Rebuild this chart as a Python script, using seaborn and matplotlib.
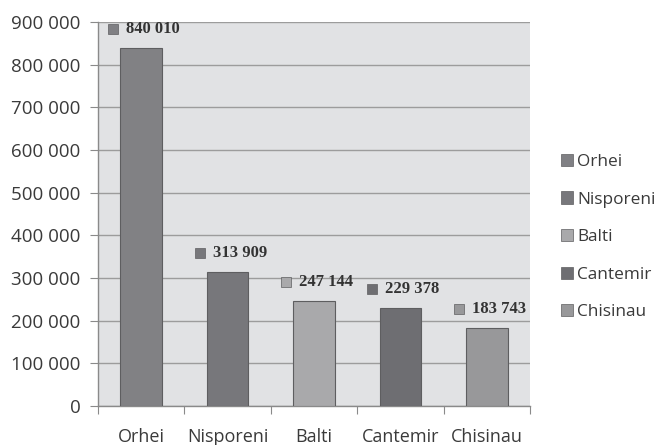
import matplotlib
matplotlib.use("Agg")
import matplotlib.pyplot as plt
import matplotlib.transforms as mtransforms
import seaborn as sns
import pandas as pd
from matplotlib.patches import Patch
from matplotlib.ticker import FuncFormatter, FixedLocator

categories = ["Orhei", "Nisporeni", "Balti", "Cantemir", "Chisinau"]
values = [840010, 313909, 247144, 229378, 183743]
colors = ["#808084", "#77777b", "#a9a9ab", "#6e6e72", "#98989a"]
yticks = [0, 100000, 200000, 300000, 400000, 500000, 600000, 700000, 800000, 900000]

df = pd.DataFrame({"city": categories, "value": values})

sns.set_style("white")
plt.rcParams["font.family"] = ["Open Sans", "DejaVu Sans"]

fig = plt.figure(figsize=(6.6, 4.45), dpi=100)
ax = fig.add_axes([98/660, 39/445, 432/660, 384/445])
ax.set_facecolor("#e1e2e4")

sns.barplot(data=df, x="city", y="value", hue="city", palette=colors,
            width=0.48, dodge=False, legend=False, ax=ax,
            edgecolor="#5e5e60", linewidth=0.8, zorder=3)

ax.set_xlim(-0.5, len(categories) - 0.5)
ax.set_ylim(0, 900000)
ax.set_yticks(yticks)
ax.yaxis.set_major_formatter(FuncFormatter(lambda v, p: f"{int(v):,}".replace(",", " ")))
ax.grid(axis="y", color="#9c9c9c", linewidth=1.0, zorder=0)
ax.set_axisbelow(True)

for s in ["top", "right"]:
    ax.spines[s].set_visible(False)
for s in ["left", "bottom"]:
    ax.spines[s].set_color("#8a8a8a")
    ax.spines[s].set_linewidth(1.0)

# x ticks: marks at boundaries, labels at centres
ax.xaxis.set_major_locator(FixedLocator([i - 0.5 for i in range(len(categories) + 1)]))
ax.xaxis.set_minor_locator(FixedLocator(list(range(len(categories)))))
ax.set_xticklabels([""] * (len(categories) + 1))
ax.set_xticklabels(categories, minor=True)
ax.tick_params(axis="x", which="major", length=5.5, color="#8a8a8a", direction="out", bottom=True)
ax.tick_params(axis="x", which="minor", length=0, pad=16, labelsize=13, labelcolor="#3a3a3a")
ax.tick_params(axis="y", length=5.5, color="#8a8a8a", direction="out", left=True,
               pad=7, labelsize=13.5, labelcolor="#3a3a3a")
ax.set_xlabel("")
ax.set_ylabel("")

# data labels: coloured square + value
offset_sq = mtransforms.ScaledTranslation(-28/100, 19/100, fig.dpi_scale_trans)
for i, (v, c) in enumerate(zip(values, colors)):
    lab = f"{v:,}".replace(",", " ")
    ax.plot([i], [v], marker="s", markersize=6.5, color=c, markeredgecolor="#5e5e60",
            markeredgewidth=0.5, transform=ax.transData + offset_sq, zorder=5,
            clip_on=False, linestyle="none")
    ax.annotate(lab, xy=(i, v), xytext=(-15*0.72, 19*0.72), textcoords="offset points",
                ha="left", va="center", fontsize=12, fontweight="bold",
                family=["Liberation Serif", "DejaVu Serif"], color="#333333",
                annotation_clip=False, zorder=6)

handles = [Patch(facecolor=c, edgecolor="#5e5e60", linewidth=0.5) for c in colors]
fig.legend(handles, categories, loc="upper left", bbox_to_anchor=(554/660, 1 - 147/445),
           frameon=False, fontsize=12.4, labelspacing=1.25, handlelength=0.7,
           handleheight=0.7, handletextpad=0.25, borderaxespad=0, labelcolor="#3a3a3a")

fig.savefig("out.png", dpi=100)
